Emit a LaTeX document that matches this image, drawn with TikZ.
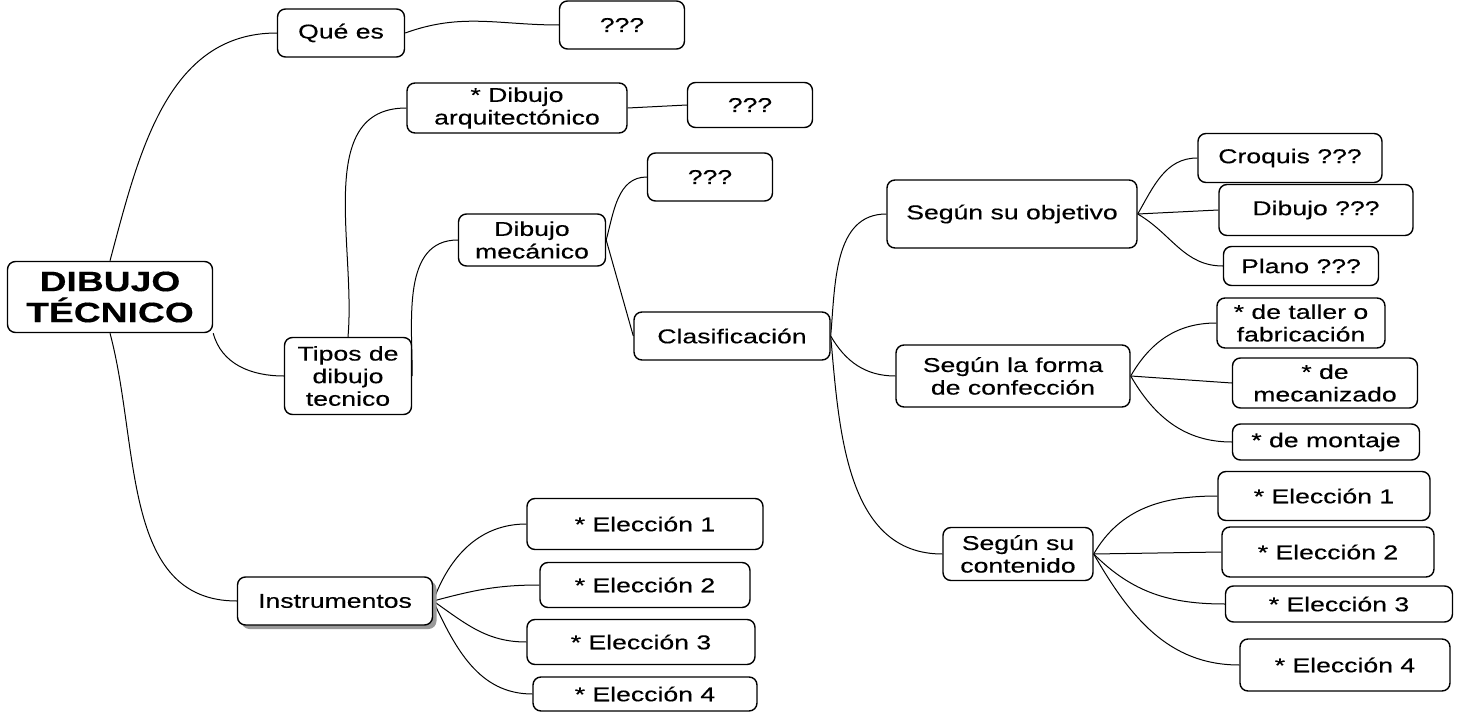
\documentclass[tikz,border=0pt]{standalone}
\usepackage{fontspec}
\setmainfont{Liberation Sans}[FakeStretch=1.33,FakeBold=0.35]
\usetikzlibrary{shadows}
\pgfdeclarelayer{edgelayer}
\pgfdeclarelayer{nodelayer}
\pgfsetlayers{edgelayer,nodelayer,main}
\tikzstyle{none}=[inner sep=0pt]
\tikzstyle{box}=[rectangle,rounded corners=4pt,fill=white,draw=black,line width=0.7pt,align=center,inner sep=0pt,font=\fontsize{10}{11.3}\selectfont]
\tikzstyle{rootbox}=[box,font=\fontsize{14}{15.5}\selectfont\bfseries]
\tikzstyle{shadowbox}=[box,drop shadow={shadow xshift=2pt,shadow yshift=-2pt,fill=gray!80,opacity=1}]
\tikzstyle{simple}=[-,draw=black,line width=0.5pt]
\tikzset{wh/.style 2 args={minimum width=#1*0.5pt,minimum height=#2*0.5pt}}

\begin{document}
\begin{tikzpicture}[x=0.5pt,y=-0.5pt]
	\useasboundingbox (0,0) rectangle (1464,712);
	\begin{pgfonlayer}{nodelayer}
		\node [style=rootbox, wh={205}{71}] (0) at (110, 297) {DIBUJO\\TÉCNICO};
		\node [style=box, wh={127}{48}] (1) at (341, 33) {Qué es};
		\node [style=box, wh={125}{48}] (2) at (622, 25) {???};
		\node [style=box, wh={220}{50}] (3) at (517, 108) {* Dibujo\\arquitectónico};
		\node [style=box, wh={125}{45}] (4) at (750, 105) {???};
		\node [style=box, wh={127}{77}] (5) at (348, 376) {Tipos de\\dibujo\\tecnico};
		\node [style=box, wh={147}{52}] (6) at (532, 240) {Dibujo\\mecánico};
		\node [style=box, wh={125}{48}] (7) at (710, 177) {???};
		\node [style=box, wh={196}{48}] (8) at (732, 336) {Clasificación};
		\node [style=shadowbox, wh={195}{48}] (9) at (335, 601) {Instrumentos};
		\node [style=box, wh={236}{51}] (10) at (645, 524) {* Elección 1};
		\node [style=box, wh={210}{45}] (11) at (645, 585) {* Elección 2};
		\node [style=box, wh={228}{45}] (12) at (641, 642) {* Elección 3};
		\node [style=box, wh={224}{34}] (13) at (645, 694) {* Elección 4};
		\node [style=box, wh={250}{68}] (14) at (1012, 214) {Según su objetivo};
		\node [style=box, wh={184}{49}] (15) at (1290, 158) {Croquis ???};
		\node [style=box, wh={194}{51}] (16) at (1316, 210) {Dibujo ???};
		\node [style=box, wh={155}{39}] (17) at (1301, 266) {Plano ???};
		\node [style=box, wh={234}{62}] (18) at (1013, 376) {Según la forma\\de confección};
		\node [style=box, wh={168}{50}] (19) at (1301, 323) {* de taller o\\fabricación};
		\node [style=box, wh={185}{50}] (20) at (1325, 383) {* de\\mecanizado};
		\node [style=box, wh={187}{36}] (21) at (1326, 442) {* de montaje};
		\node [style=box, wh={150}{53}] (22) at (1018, 554) {Según su\\contenido};
		\node [style=box, wh={212}{49}] (23) at (1324, 496) {* Elección 1};
		\node [style=box, wh={212}{50}] (24) at (1328, 552) {* Elección 2};
		\node [style=box, wh={227}{36}] (25) at (1339, 604) {* Elección 3};
		\node [style=box, wh={210}{52}] (26) at (1345, 665) {* Elección 4};
	\end{pgfonlayer}
	\begin{pgfonlayer}{edgelayer}
		\draw [style=simple, out=75, in=180] (0.north) to (1.west);
		\draw [style=simple, out=-75, in=180] (0.south east) to (5.west);
		\draw [style=simple, out=-75, in=180] (0.south) to (9.west);
		\draw [style=simple, out=20, in=180] (1.east) to (2.west);
		\draw [style=simple, out=85, in=180] (5.north) to (3.west);
		\draw [style=simple, out=90, in=180] (5.east) to (6.west);
		\draw [style=simple] (3.east) to (4.west);
		\draw [style=simple, out=75, in=180] (6.east) to (7.west);
		\draw [style=simple] (6.east) to (8.west);
		\draw [style=simple, out=85, in=180] (8.east) to (14.west);
		\draw [style=simple, out=-60, in=180] (8.east) to (18.west);
		\draw [style=simple, out=-85, in=180] (8.east) to (22.west);
		\draw [style=simple, out=60, in=180] (14.east) to (15.west);
		\draw [style=simple] (14.east) to (16.west);
		\draw [style=simple, out=-30, in=180] (14.east) to (17.west);
		\draw [style=simple, out=60, in=180] (18.east) to (19.west);
		\draw [style=simple] (18.east) to (20.west);
		\draw [style=simple, out=-60, in=180] (18.east) to (21.west);
		\draw [style=simple, out=60, in=180] (22.east) to (23.west);
		\draw [style=simple] (22.east) to (24.west);
		\draw [style=simple, out=-45, in=180] (22.east) to (25.west);
		\draw [style=simple, out=-60, in=180] (22.east) to (26.west);
		\draw [style=simple, out=70, in=180] (9.east) to (10.west);
		\draw [style=simple, out=15, in=180] (9.east) to (11.west);
		\draw [style=simple, out=-35, in=180] (9.east) to (12.west);
		\draw [style=simple, out=-65, in=180] (9.east) to (13.west);
	\end{pgfonlayer}
\end{tikzpicture}
\end{document}
